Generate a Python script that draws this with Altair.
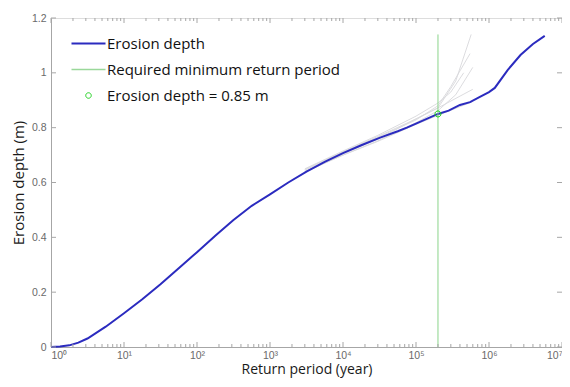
import altair as alt
import pandas as pd

# ---------------- data ----------------
T_blue = [1, 1.33, 1.78, 2.37, 3.16, 5.62, 10, 17.8, 31.6, 56.2, 100, 178, 316, 562,
          1000, 1780, 3160, 5620, 10000, 17800, 31600, 56200, 75000, 100000, 140000,
          200000, 280000, 400000, 550000, 750000, 1000000, 1200000, 1800000, 2700000,
          4000000, 5800000]
D_blue = [0.0, 0.0015, 0.006, 0.016, 0.031, 0.074, 0.123, 0.174, 0.229, 0.287, 0.346,
          0.406, 0.463, 0.515, 0.557, 0.6, 0.64, 0.675, 0.707, 0.736, 0.763, 0.787, 0.80,
          0.815, 0.832, 0.85, 0.862, 0.883, 0.893, 0.912, 0.93, 0.945, 1.01, 1.065, 1.105,
          1.135]

# gray ensemble runs
G_T = {
    "g1": [3000, 10000, 30000, 100000, 200000, 350000, 570000],
    "g2": [3000, 10000, 30000, 100000, 200000, 300000, 550000],
    "g3": [3000, 10000, 30000, 100000, 200000, 350000, 600000],
    "g4": [3000, 10000, 30000, 100000, 200000, 600000],
    "g5": [3000, 10000, 30000, 100000, 200000, 600000],
    "g6": [3000, 10000, 30000, 100000, 200000, 300000, 450000],
}
G_D = {
    "g1": [0.64, 0.705, 0.758, 0.832, 0.872, 0.97, 1.14],
    "g2": [0.645, 0.71, 0.765, 0.828, 0.88, 0.95, 1.07],
    "g3": [0.64, 0.70, 0.752, 0.818, 0.862, 0.92, 1.02],
    "g4": [0.648, 0.712, 0.768, 0.832, 0.872, 0.94],
    "g5": [0.638, 0.70, 0.75, 0.812, 0.845, 0.895],
    "g6": [0.65, 0.715, 0.772, 0.842, 0.89, 0.93, 1.0],
}

T_req = [200000, 200000]
D_req = [0.0, 1.14]
T_pt = [200000]
D_pt = [0.85]

legend_labels = ["Erosion depth", "Required minimum return period", "Erosion depth = 0.85 m"]
legend_colors = ["#2b2bbf", "#9ad89a", "#1fd21f"]
ring = "M0.55,0A0.55,0.55,0,1,1,-0.55,0A0.55,0.55,0,1,1,0.55,0Z"
legend_shapes = ["M-3.4,0L3.4,0", "M-3.4,0L3.4,0", ring]
legend_widths = [2.2, 1, 2.4]

x_major = [1, 10, 100, 1000, 10000, 100000, 1000000, 10000000]
x_minor = [m * d for d in x_major[:-1] for m in range(2, 10)]
y_ticks = [0, 0.2, 0.4, 0.6, 0.8, 1.0, 1.2]

W, H = 511, 329
AX = "#a6a6a6"

df_blue = pd.DataFrame({"T": T_blue, "D": D_blue})
df_gray = pd.concat([pd.DataFrame({"T": G_T[k], "D": G_D[k], "run": k}) for k in G_T])
df_req = pd.DataFrame({"T": T_req, "D": D_req})
df_pt = pd.DataFrame({"T": T_pt, "D": D_pt, "series": [legend_labels[2]]})

xs = alt.Scale(type="log", domain=[1, 1e7], nice=False)
ys = alt.Scale(domain=[0, 1.2], nice=False)

sup = "['\u2070','\u00b9','\u00b2','\u00b3','\u2074','\u2075','\u2076','\u2077'][round(log(datum.value)/LN10)]"

X = alt.X("T:Q", scale=xs, title="Return period (year)",
          axis=alt.Axis(values=x_major, labelExpr="'10' + " + sup, ticks=False, grid=False,
                        domainColor=AX, labelColor="#6a6a6a", labelFont="Liberation Sans",
                        labelFontSize=10.5, labelPadding=3, titleFont="Open Sans",
                        titleFontSize=14, titleFontWeight="normal", titleColor="#1a1a1a",
                        titlePadding=2))
Y = alt.Y("D:Q", scale=ys, title="Erosion depth (m)",
          axis=alt.Axis(values=y_ticks, format="~g", ticks=False, grid=False, domainColor=AX,
                        labelColor="#6a6a6a", labelFont="Liberation Sans", labelFontSize=10.5,
                        labelPadding=5, titleFont="Open Sans", titleFontSize=15,
                        titleFontWeight="normal", titleColor="#1a1a1a", titlePadding=5))

gray = alt.Chart(df_gray).mark_line(strokeWidth=1, color="#d8d8dc", opacity=0.9).encode(
    x=alt.X("T:Q", scale=xs), y=alt.Y("D:Q", scale=ys), detail="run:N")

blue = alt.Chart(df_blue).mark_line(strokeWidth=2, color=legend_colors[0]).encode(x=X, y=Y)

req = alt.Chart(df_req).mark_line(strokeWidth=1, color="#8ad48a").encode(
    x=alt.X("T:Q", scale=xs), y=alt.Y("D:Q", scale=ys))

leg = dict(title=None, orient="none", legendX=30, legendY=18, padding=0,
           labelFont="Open Sans", labelFontSize=15, labelColor="#111111",
           labelOffset=11, labelLimit=400, rowPadding=10, symbolSize=100)

pt = alt.Chart(df_pt).mark_point(filled=False, size=120, opacity=1).encode(
    x=alt.X("T:Q", scale=xs), y=alt.Y("D:Q", scale=ys),
    color=alt.Color("series:N", scale=alt.Scale(domain=legend_labels, range=legend_colors),
                    legend=alt.Legend(**leg)),
    shape=alt.Shape("series:N", scale=alt.Scale(domain=legend_labels, range=legend_shapes),
                    legend=alt.Legend(**leg)),
    strokeWidth=alt.StrokeWidth("series:N",
                                scale=alt.Scale(domain=legend_labels, range=legend_widths),
                                legend=alt.Legend(**leg)),
)

# inward ticks on all four sides
df_xmaj = pd.DataFrame({"T": x_major})
df_xmin = pd.DataFrame({"T": x_minor})
df_y = pd.DataFrame({"D": y_ticks})

def xt(df, y0, y1):
    return alt.Chart(df).mark_rule(color=AX, strokeWidth=1).encode(
        x=alt.X("T:Q", scale=xs), y=alt.value(y0), y2=alt.value(y1))

def yt(x0, x1):
    return alt.Chart(df_y).mark_rule(color=AX, strokeWidth=1).encode(
        y=alt.Y("D:Q", scale=ys), x=alt.value(x0), x2=alt.value(x1))

ticks = [xt(df_xmaj, H, H - 5), xt(df_xmin, H, H - 3), xt(df_xmaj, 0, 5), xt(df_xmin, 0, 3),
         yt(0, 5), yt(W, W - 5)]

chart = alt.layer(gray, blue, req, pt, *ticks).properties(
    width=W, height=H,
    autosize=alt.AutoSizeParams(type="none"),
    padding={"left": 43, "top": 10, "right": 0, "bottom": 31},
).configure_view(stroke=AX, strokeWidth=1).configure(background="white")

chart.save("out.html", embed_options={"renderer": "svg", "actions": False})
